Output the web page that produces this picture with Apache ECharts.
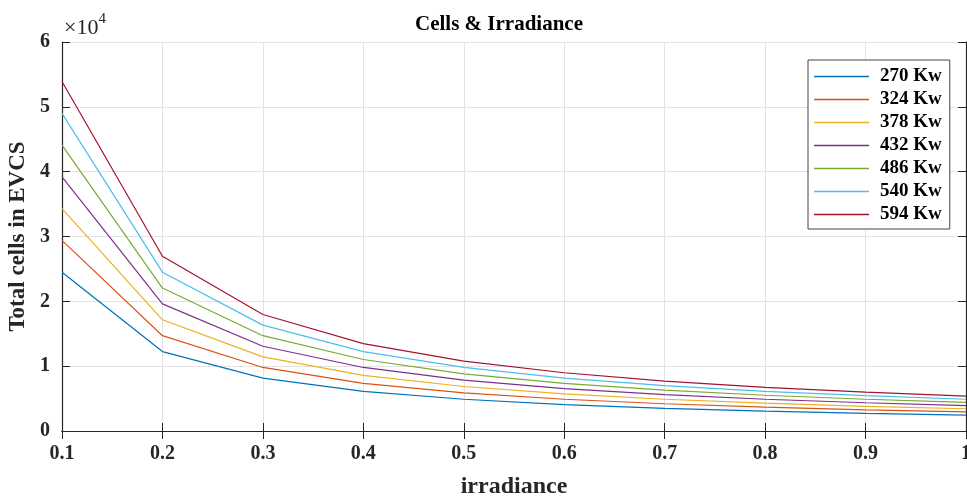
<!DOCTYPE html>
<html><head><meta charset="utf-8">
<script src="https://cdn.jsdelivr.net/npm/echarts@6/dist/echarts.min.js"></script>
<style>html,body{margin:0;padding:0;background:#fff}#c{width:967px;height:496px}</style>
</head><body><div id="c"></div>
<script>
const irradiance = ['0.1','0.2','0.3','0.4','0.5','0.6','0.7','0.8','0.9','1'];
const seriesNames = ['270 Kw','324 Kw','378 Kw','432 Kw','486 Kw','540 Kw','594 Kw'];
const kw270 = [24500,12250,8167,6125,4900,4083,3500,3063,2722,2450];
const kw324 = [29400,14700,9800,7350,5880,4900,4200,3675,3267,2940];
const kw378 = [34300,17150,11433,8575,6860,5717,4900,4288,3811,3430];
const kw432 = [39200,19600,13067,9800,7840,6533,5600,4900,4356,3920];
const kw486 = [44100,22050,14700,11025,8820,7350,6300,5513,4900,4410];
const kw540 = [49000,24500,16333,12250,9800,8167,7000,6125,5444,4900];
const kw594 = [53900,26950,17967,13475,10780,8983,7700,6738,5989,5390];
const yTicks = ['0','1','2','3','4','5','6'];
const colors = ['#0072BD','#D95319','#EDB120','#7E2F8E','#77AC30','#4DBEEE','#A2142F'];
const allData = [kw270,kw324,kw378,kw432,kw486,kw540,kw594];

const font = "'Liberation Serif','Times New Roman',serif";
const axisCol = '#262626';
const chart = echarts.init(document.getElementById('c'));
chart.setOption({
  animation:false,
  backgroundColor:'#fff',
  title:{text:'Cells & Irradiance',left:494,top:9,textAlign:'center',
    textStyle:{fontFamily:font,fontWeight:'bold',fontSize:21,color:'#000'}},
  grid:{left:62,right:1,top:42,bottom:65,outerBoundsMode:'none',containLabel:false},
  legend:{orient:'vertical',left:808,top:60,width:140,
    data:seriesNames,icon:'rect',itemWidth:55,itemHeight:1.5,itemGap:4,
    backgroundColor:'#fff',borderColor:'#444',borderWidth:1,padding:[7,8,5,6],
    textStyle:{fontFamily:font,fontWeight:'bold',fontSize:19,color:'#000',padding:[0,0,0,6]}},
  graphic:[{type:'text',left:64,top:12,style:{
    text:'{a|×10}{b|4}',
    rich:{a:{fontFamily:font,fontSize:22,fill:'#262626',verticalAlign:'bottom'},
          b:{fontFamily:font,fontSize:15,fill:'#262626',verticalAlign:'top',padding:[0,0,12,0]}}}}],
  xAxis:[{type:'category',data:irradiance,boundaryGap:false,
    name:'irradiance',nameLocation:'middle',nameGap:44,
    nameTextStyle:{fontFamily:font,fontWeight:'bold',fontSize:24,color:'#262626'},
    axisLine:{lineStyle:{color:axisCol,width:1.2}},
    axisTick:{inside:true,length:8,lineStyle:{color:axisCol}},
    axisLabel:{fontFamily:font,fontWeight:'bold',fontSize:20,color:'#262626',margin:13,showMaxLabel:true},
    splitLine:{show:true,lineStyle:{color:'#e2e2e2',width:1}}},
    {type:'category',data:irradiance,boundaryGap:false,position:'top',
    axisLine:{lineStyle:{color:axisCol,width:1.2}},
    axisTick:{inside:true,length:8,lineStyle:{color:axisCol}},
    axisLabel:{show:false},splitLine:{show:false}}],
  yAxis:[{type:'value',min:0,max:60000,interval:10000,
    name:'Total cells in EVCS',nameLocation:'middle',nameGap:31,
    nameTextStyle:{fontFamily:font,fontWeight:'bold',fontSize:23,color:'#262626'},
    axisLine:{show:true,lineStyle:{color:axisCol,width:1.2}},
    axisTick:{show:true,inside:true,length:8,lineStyle:{color:axisCol}},
    axisLabel:{fontFamily:font,fontWeight:'bold',fontSize:20,color:'#262626',margin:12,
      formatter:v=>yTicks[Math.round(v/10000)]},
    splitLine:{show:true,lineStyle:{color:'#e2e2e2',width:1}}},
    {type:'value',min:0,max:60000,interval:10000,position:'right',
    axisLine:{show:true,lineStyle:{color:axisCol,width:1.2}},
    axisTick:{show:true,inside:true,length:8,lineStyle:{color:axisCol}},
    axisLabel:{show:false},splitLine:{show:false}}],
  series:seriesNames.map((n,i)=>({name:n,type:'line',data:allData[i],symbol:'none',
    color:colors[i],lineStyle:{width:1.2,color:colors[i]},z:3}))
});
</script></body></html>
